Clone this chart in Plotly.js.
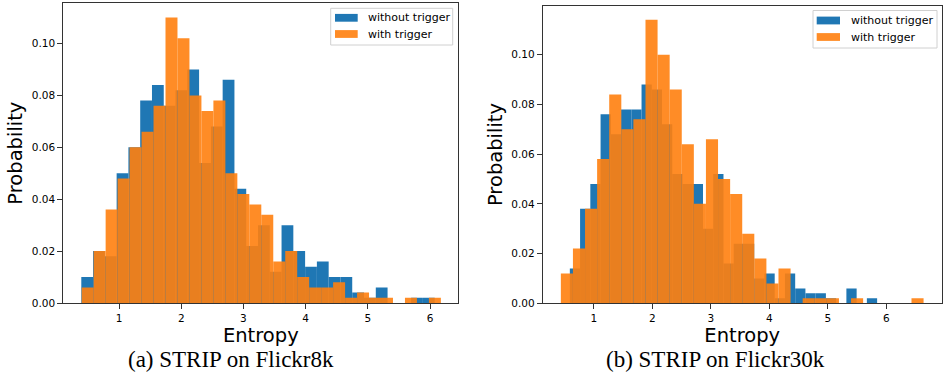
<!DOCTYPE html>
<html>
<head>
<meta charset="utf-8">
<script src="https://cdn.plot.ly/plotly-3.0.1.min.js"></script>
<style>html,body{margin:0;padding:0;background:#fff;}#chart{width:943px;height:387px;}</style>
</head>
<body>
<div id="chart"></div>
<script>
// ---- Data (probability per bin) ----
// (a) Flickr8k
const binStartA_without = 0.3934, binWidthA_without = 0.1894;
const probA_without = [0.010,0.020,0.018,0.050,0.060,0.078,0.084,0.076,0.082,0.090,
                       0.054,0.068,0.086,0.044,0.022,0.030,0.012,0.030,0.020,0.014,
                       0.016,0.010,0.010,0.004,0.002,0.006,0.000,0.000,0.002,0.002];
const binStartA_with = 0.3998, binWidthA_with = 0.1925;
const probA_with = [0.006,0.020,0.036,0.048,0.060,0.066,0.076,0.110,0.102,0.080,
                    0.074,0.078,0.050,0.042,0.038,0.034,0.016,0.020,0.010,0.006,
                    0.006,0.008,0.002,0.004,0.002,0.002,0.000,0.002,0.000,0.002];
// (b) Flickr30k
const binStartB_without = 0.590, binWidthB_without = 0.1751;
const probB_without = [0.014,0.038,0.048,0.076,0.068,0.078,0.078,0.088,0.086,0.072,
                       0.052,0.048,0.048,0.030,0.052,0.016,0.024,0.024,0.010,0.012,
                       0.002,0.012,0.006,0.004,0.004,0.002,0.000,0.006,0.000,0.002];
const binStartB_with = 0.4363, binWidthB_with = 0.2067;
const probB_with = [0.012,0.022,0.038,0.058,0.084,0.070,0.074,0.114,0.100,0.086,
                    0.064,0.040,0.066,0.050,0.044,0.028,0.018,0.008,0.014,0.000,
                    0.002,0.002,0.002,0.000,0.002,0.000,0.000,0.000,0.000,0.002];

const xTicks = [1,2,3,4,5,6];
const yTicks = [0,0.02,0.04,0.06,0.08,0.10];
const seriesNames = ['without trigger','with trigger'];
const captions = ['(a) STRIP on Flickr8k','(b) STRIP on Flickr30k'];
const xTitle = 'Entropy', yTitle = 'Probability';

// ---- Styling ----
const BLUE = '#1f77b4';
const ORANGE = 'rgba(255,127,14,0.9)';
const W = 943, H = 387;
const px = v => v / W;
const py = v => (H - v) / H;

function centers(start, width, n) {
  const c = [];
  for (let i = 0; i < n; i++) c.push(start + (i + 0.5) * width);
  return c;
}
function barTrace(start, width, probs, color, xa, ya, name) {
  return {
    type: 'bar', name: name,
    x: centers(start, width, probs.length), y: probs,
    width: probs.map(() => width),
    marker: {color: color, line: {width: 0}},
    xaxis: xa, yaxis: ya, showlegend: false, hoverinfo: 'x+y'
  };
}

const data = [
  barTrace(binStartA_without, binWidthA_without, probA_without, BLUE, 'x', 'y', seriesNames[0]),
  barTrace(binStartA_with, binWidthA_with, probA_with, ORANGE, 'x', 'y', seriesNames[1]),
  barTrace(binStartB_without, binWidthB_without, probB_without, BLUE, 'x2', 'y2', seriesNames[0]),
  barTrace(binStartB_with, binWidthB_with, probB_with, ORANGE, 'x2', 'y2', seriesNames[1])
];

const tickFont = {family: 'DejaVu Sans', size: 10.5, color: '#000'};
const titleFont = {family: 'DejaVu Sans', size: 19.5, color: '#000'};
const axCommon = {
  showline: true, mirror: true, linecolor: '#333', linewidth: 1,
  ticks: 'outside', ticklen: 5, tickwidth: 1, tickcolor: '#333',
  showgrid: false, zeroline: false, tickfont: tickFont, automargin: false, fixedrange: true
};

function xAxis(domain, range, anchor) {
  return Object.assign({}, axCommon, {
    domain: domain, range: range, anchor: anchor,
    tickmode: 'array', tickvals: xTicks, ticktext: xTicks.map(String),
    title: {text: xTitle, font: titleFont, standoff: 1}
  });
}
function yAxis(domain, range, anchor) {
  return Object.assign({}, axCommon, {
    domain: domain, range: range, anchor: anchor,
    tickmode: 'array', tickvals: yTicks, ticktext: yTicks.map(v => v.toFixed(2)),
    title: {text: yTitle, font: titleFont, standoff: 3}
  });
}

const shapes = [], annotations = [];
function legend(box, patchX, rowsY, textX) {
  shapes.push({type: 'rect', xref: 'paper', yref: 'paper',
    x0: px(box[0]), x1: px(box[1]), y0: py(box[3]), y1: py(box[2]),
    line: {color: '#d0d0d0', width: 1}, fillcolor: 'rgba(255,255,255,0.8)', layer: 'above'});
  const cols = [BLUE, ORANGE];
  rowsY.forEach((cy, i) => {
    shapes.push({type: 'rect', xref: 'paper', yref: 'paper',
      x0: px(patchX[0]), x1: px(patchX[1]), y0: py(cy + 3.9), y1: py(cy - 3.9),
      line: {width: 0}, fillcolor: cols[i], layer: 'above'});
    annotations.push({xref: 'paper', yref: 'paper', x: px(textX), y: py(cy),
      xanchor: 'left', yanchor: 'middle', showarrow: false, text: seriesNames[i],
      font: {family: 'DejaVu Sans', size: 11, color: '#000'}});
  });
}
legend([330.7, 452.7, 8.3, 45], [335, 357.7], [17.8, 34], 365.5);
legend([813, 937, 10.5, 48], [816.7, 840], [20.5, 37], 849);

annotations.push({xref: 'paper', yref: 'paper', x: px(231), y: py(359), xanchor: 'center', yanchor: 'middle',
  showarrow: false, text: captions[0], font: {family: 'Liberation Serif', size: 23, color: '#000'}});
annotations.push({xref: 'paper', yref: 'paper', x: px(715), y: py(359), xanchor: 'center', yanchor: 'middle',
  showarrow: false, text: captions[1], font: {family: 'Liberation Serif', size: 23, color: '#000'}});

const layout = {
  width: W, height: H,
  margin: {l: 0, r: 0, t: 0, b: 0},
  paper_bgcolor: '#fff', plot_bgcolor: '#fff',
  barmode: 'overlay', showlegend: false,
  xaxis: xAxis([px(63.3), px(458.3)], [0.104, 6.455], 'y'),
  yaxis: yAxis([py(303), py(3.3)], [0, 0.1155], 'x'),
  xaxis2: xAxis([px(542.7), px(941.7)], [0.126, 6.947], 'y2'),
  yaxis2: yAxis([py(303.3), py(5.7)], [0, 0.1197], 'x2'),
  shapes: shapes, annotations: annotations
};

Plotly.newPlot('chart', data, layout, {displayModeBar: false, staticPlot: true});
</script>
</body>
</html>
